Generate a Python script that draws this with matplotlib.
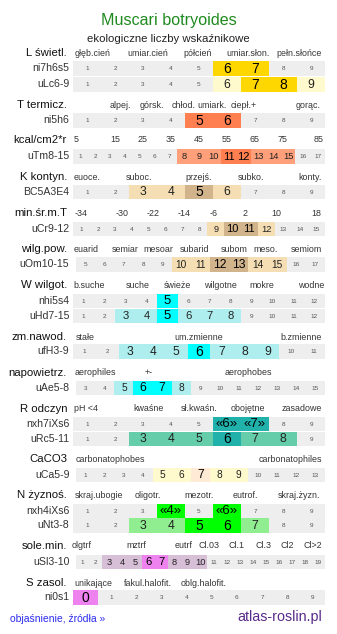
import matplotlib.pyplot as plt

plt.rcParams['font.family'] = ['Liberation Sans', 'DejaVu Sans']

title = 'Muscari botryoides'
subtitle = 'ekologiczne liczby wskaźnikowe'

# nazwy sekcji
sections = ['L świetl.', 'T termicz.', 'kcal/cm2*r', 'K kontyn.', 'min.śr.m.T',
            'wilg.pow.', 'W wilgot.', 'zm.nawod.', 'napowietrz.', 'R odczyn',
            'CaCO3', 'N żyznoś.', 'sole.min.', 'S zasol.']

# opisy skal nad wierszami
L_names = ['głęb.cień', 'umiar.cień', 'półcień', 'umiar.słon.', 'pełn.słońce']
T_names = ['alpej.', 'górsk.', 'chłod.', 'umiark.', 'ciepł.+', 'gorąc.']
kcal_names = ['5', '15', '25', '35', '45', '55', '65', '75', '85']
K_names = ['euoce.', 'suboc.', 'przejś.', 'subko.', 'konty.']
minT_names = ['-34', '-30', '-22', '-14', '-6', '2', '10', '18']
wilg_names = ['euarid', 'semiar', 'mesoar', 'subarid', 'subom', 'meso.', 'semiom']
W_names = ['b.suche', 'suche', 'świeże', 'wilgotne', 'mokre', 'wodne']
zm_names = ['stałe', 'um.zmienne', 'b.zmienne']
napow_names = ['aerophiles', '+-', 'aerophobes']
R_names = ['pH <4', 'kwaśne', 'sł.kwaśn.', 'obojętne', 'zasadowe']
Ca_names = ['carbonatophobes', 'carbonatophiles']
N_names = ['skraj.ubogie', 'oligotr.', 'mezotr.', 'eutrof.', 'skraj.żyzn.']
sole_names = ['olgtrf', 'mztrf', 'eutrf', 'Cl.03', 'Cl.1', 'Cl.3', 'Cl2', 'Cl>2']
S_names = ['unikające', 'fakul.halofit.', 'oblg.halofit.']

# wiersze: kod, zakres skali, pola jasne, pola ciemne
codes = ['ni7h6s5', 'uLc6-9', 'ni5h6', 'uTm8-15', 'BC5A3E4', 'uCr9-12', 'uOm10-15',
         'nhi5s4', 'uHd7-15', 'ufH3-9', 'uAe5-8', 'nxh7iXs6', 'uRc5-11', 'uCa5-9',
         'nxh4iXs6', 'uNt3-8', 'uSl3-10', 'ni0s1']
scale_first = [1, 1, 1, 1, 1, 1, 5, 1, 1, 1, 3, 1, 1, 1, 1, 1, 1, 0]
scale_last = [9, 9, 9, 17, 9, 15, 17, 12, 12, 11, 15, 9, 9, 13, 9, 9, 19, 9]
light = [[], [6, 9], [], [8, 9, 10, 13, 14, 15], [3, 4, 6], [9, 12], [10, 11, 14, 15],
         [], [3, 4, 6, 7, 8], [3, 4, 5, 7, 8, 9], [5, 8], [], [3, 4, 5, 7, 8],
         [5, 6, 8, 9], [], [3, 4, 7], [3, 4, 5, 8, 9, 10], []]
dark = [[6, 7], [7, 8], [5, 6], [11, 12], [5], [10, 11], [12, 13],
        [5], [5], [6], [6, 7], [6, 7], [6], [7], [4, 6], [5, 6], [6, 7], [0]]
guillemets = ['nxh7iXs6', 'nxh4iXs6']

# kolory (jasny, ciemny) dla grup
pal_L = ('#fffacd', '#ffd700')
pal_T = ('#ffa07a', '#ff7f50')
pal_K = ('#f5deb3', '#d2b48c')
pal_W = ('#afeeee', '#00ffff')
pal_R = ('#66cdaa', '#20b2aa')
pal_Ca = ('#fffacd', '#ffead5')
pal_N = ('#90ee90', '#00ff00')
pal_S = ('#d8bfd8', '#ee82ee')
row_pal = [pal_L, pal_L, pal_T, pal_T, pal_K, pal_K, pal_K, pal_W, pal_W, pal_W, pal_W,
           pal_R, pal_R, pal_Ca, pal_N, pal_N, pal_S, pal_S]

# uklad (piksele)
sec_y = [53, 105, 140, 177, 213, 249.5, 285, 337, 372.5, 408.5, 459, 495, 546, 583]
row_top = [61, 77, 113, 149, 184.5, 221.5, 257, 293.5, 308.5, 344, 380.5, 416.5, 431.5,
           467.5, 503.5, 518, 554.5, 590]
row_x0 = [73, 73, 73, 73, 73, 73, 76, 73, 73, 73, 76, 73, 73, 76, 73, 73, 76, 73]
ROW_H = 14.5
X1 = 325

cat_sets = [L_names, T_names, kcal_names, K_names, minT_names, wilg_names, W_names,
            zm_names, napow_names, R_names, Ca_names, N_names, sole_names, S_names]
cat_x = [
    [92.5, 148, 198, 248, 299],
    [120.7, 151.7, 183.3, 212.3, 243.3, 308.3],
    [75.7, 115, 142.7, 170.7, 199, 226.7, 255, 282.7, 318.3],
    [86.7, 139.3, 198.3, 250.7, 310],
    [81, 121.7, 152.7, 184, 213.3, 245, 276, 316.7],
    [85.7, 125, 158.3, 195, 234.3, 266, 306.7],
    [89.3, 137.3, 177.7, 220, 261.7, 311.7],
    [85, 199, 301],
    [95, 149, 248.3],
    [86, 149, 199, 248.3, 301.7],
    [110, 290],
    [99, 148.3, 199, 245, 299.3],
    [81.7, 136.7, 183.3, 209.3, 236.7, 263.3, 287.3, 313.3],
    [93.3, 148.3, 203.3],
]

fig = plt.figure(figsize=(3.37, 6.34), dpi=100)
ax = fig.add_axes([0, 0, 1, 1])
ax.set_xlim(0, 337)
ax.set_ylim(634, 0)
ax.axis('off')

ax.text(168.5, 20, title, ha='center', va='center', fontsize=11.6, color='#1f8a1f')
ax.text(168.5, 38.5, subtitle, ha='center', va='center', fontsize=8.2, color='#222222')

# sekcje i opisy skal
for name, y, cats, xs in zip(sections, sec_y, cat_sets, cat_x):
    ax.text(67, y, name, ha='right', va='center', fontsize=8.2, color='#111111')
    for c, x in zip(cats, xs):
        ax.text(x, y, c, ha='center', va='center', fontsize=6.4, color='#333333')

# wiersze
for i, code in enumerate(codes):
    vals = list(range(scale_first[i], scale_last[i] + 1))
    x0 = row_x0[i]
    w = (X1 - x0) / len(vals)
    xs = [x0 + w * (k + 0.5) for k in range(len(vals))]
    top = row_top[i]
    ax.bar(xs, ROW_H, width=w, bottom=top, color='#eeeeee', linewidth=0)
    c_light, c_dark = row_pal[i]
    big = max(8.0, min(10.0, 0.45 * w))
    for v, x in zip(vals, xs):
        if v in dark[i]:
            ax.bar(x, ROW_H, width=w, bottom=top, color=c_dark, linewidth=0)
            lab = '«%d»' % v if code in guillemets else str(v)
            fs = big - 0.5 if code in guillemets else big
            ax.text(x, top + ROW_H / 2 + 0.5, lab, ha='center', va='center',
                    fontsize=fs, color='#000000')
        elif v in light[i]:
            ax.bar(x, ROW_H, width=w, bottom=top, color=c_light, linewidth=0)
            ax.text(x, top + ROW_H / 2 + 0.5, str(v), ha='center', va='center',
                    fontsize=big - 1.3, color='#222222')
        else:
            ax.text(x, top + ROW_H / 2 + 0.3, str(v), ha='center', va='center',
                    fontsize=4.6, color='#555555')
    ax.text(69.5, top + ROW_H / 2, code, ha='right', va='center', fontsize=7.6,
            color='#333333')

ax.text(10, 619, 'objaśnienie, źródła »', ha='left', va='center', fontsize=7.5,
        color='#2b2bee')
ax.text(322, 617, 'atlas-roslin.pl', ha='right', va='center', fontsize=10.3,
        color='#5a2a8a')

fig.savefig('out.png', dpi=100)
